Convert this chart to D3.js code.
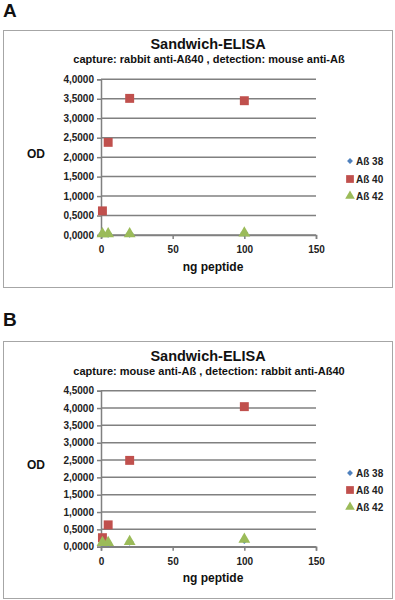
<!DOCTYPE html>
<html><head><meta charset="utf-8">
<script src="https://cdn.jsdelivr.net/npm/d3@7"></script>
<style>
html,body{margin:0;padding:0;background:#fff;}
svg{display:block;}
text{font-family:"Liberation Sans",Arial,sans-serif;font-weight:bold;}
</style></head>
<body>
<svg id="c" width="395" height="600"></svg>
<script>
// ---- data ----
const seriesNames = ["Aß 38", "Aß 40", "Aß 42"];
const xValues = [1, 5, 20, 100];
const xTicks = [0, 50, 100, 150];
// Panel A
const titleA = "Sandwich-ELISA";
const subtitleA = "capture: rabbit anti-Aß40 , detection: mouse anti-Aß";
const yTicksA = [0, 0.5, 1, 1.5, 2, 2.5, 3, 3.5, 4];
const a38 = [0.03, 0.03, 0.03, 0.05];
const a40 = [0.62, 2.38, 3.51, 3.45];
const a42 = [0.03, 0.03, 0.03, 0.05];
// Panel B
const titleB = "Sandwich-ELISA";
const subtitleB = "capture: mouse anti-Aß , detection: rabbit anti-Aß40";
const yTicksB = [0, 0.5, 1, 1.5, 2, 2.5, 3, 3.5, 4, 4.5];
const b38 = [0.11, 0.11, 0.14, 0.19];
const b40 = [0.26, 0.63, 2.49, 4.04];
const b42 = [0.12, 0.12, 0.15, 0.21];

const colors = ["#4F81BD", "#C0504D", "#9BBB59"];
const svg = d3.select("#c");
const fmt = v => d3.format(".4f")(v).replace(".", ",");

function panel(o) {
  const g = svg.append("g");
  g.append("text").attr("x", 3).attr("y", o.letterY).attr("font-size", 19).attr("fill", "#111").text(o.letter);
  g.append("rect").attr("x", 3.5).attr("y", o.boxTop + 0.5).attr("width", 389).attr("height", o.boxH)
    .attr("fill", "#fff").attr("stroke", "#a6a6a6").attr("stroke-width", 1);
  g.append("text").attr("x", 208).attr("y", o.titleY).attr("text-anchor", "middle").attr("font-size", 14.5).attr("fill", "#111").text(o.title);
  g.append("text").attr("x", 209).attr("y", o.subY).attr("text-anchor", "middle").attr("font-size", 11).attr("fill", "#111").text(o.subtitle);

  const x = d3.scaleLinear().domain([0, 150]).range([101, 316]);
  const y = d3.scaleLinear().domain([0, o.yMax]).range([o.y0, o.yTop]);

  // gridlines
  g.append("g").selectAll("line").data(o.yTicks).join("line")
    .attr("x1", x(0)).attr("x2", x(150)).attr("y1", d => y(d)).attr("y2", d => y(d))
    .attr("stroke", "#808080").attr("stroke-width", 1.5);

  const yAxis = g.append("g").attr("transform", `translate(${x(0)},0)`)
    .call(d3.axisLeft(y).tickValues(o.yTicks).tickFormat(fmt).tickSize(4).tickPadding(3));
  yAxis.select(".domain").attr("stroke", "#808080").attr("stroke-width", 1.5);
  yAxis.selectAll(".tick line").attr("stroke", "#808080").attr("stroke-width", 1.5);
  yAxis.selectAll("text").attr("font-size", 10).attr("fill", "#222").attr("font-family", "Liberation Sans, Arial, sans-serif").attr("font-weight", "bold");

  const xAxis = g.append("g").attr("transform", `translate(0,${y(0)})`)
    .call(d3.axisBottom(x).tickValues(xTicks).tickFormat(d3.format("d")).tickSize(4).tickPadding(7));
  xAxis.select(".domain").attr("stroke", "#808080").attr("stroke-width", 1.5);
  xAxis.selectAll(".tick line").attr("stroke", "#808080").attr("stroke-width", 1.5);
  xAxis.selectAll("text").attr("font-size", 10).attr("fill", "#222").attr("font-family", "Liberation Sans, Arial, sans-serif").attr("font-weight", "bold");

  g.append("text").attr("x", 213).attr("y", o.xlabY).attr("text-anchor", "middle").attr("font-size", 12).attr("fill", "#111").text("ng peptide");
  g.append("text").attr("x", 36).attr("y", o.odY).attr("text-anchor", "middle").attr("dominant-baseline", "central").attr("font-size", 12).attr("fill", "#111").text("OD");

  const sym = [d3.symbolDiamond2, d3.symbolSquare, d3.symbolTriangle];
  const sizes = [40, 80, 60];
  const data = [o.s38, o.s40, o.s42];
  data.forEach((vals, si) => {
    g.append("g").selectAll("path").data(vals).join("path")
      .attr("d", d3.symbol(sym[si], sizes[si]))
      .attr("transform", (d, i) => `translate(${x(xValues[i])},${y(d)})`)
      .attr("fill", colors[si]);
  });

  // legend
  const lg = g.append("g");
  seriesNames.forEach((n, i) => {
    const cy = o.legY[i];
    lg.append("path").attr("d", d3.symbol(sym[i], i === 0 ? 22 : (i === 1 ? 60 : 40)))
      .attr("transform", `translate(350,${cy})`).attr("fill", colors[i]);
    lg.append("text").attr("x", 356).attr("y", cy).attr("dominant-baseline", "central")
      .attr("font-size", 10).attr("fill", "#222").text(n);
  });
}

panel({letter: "A", letterY: 17, boxTop: 30, boxH: 257, title: titleA, subtitle: subtitleA, titleY: 49, subY: 63,
  yMax: 4, y0: 235, yTop: 79.3, yTicks: yTicksA, s38: a38, s40: a40, s42: a42, xlabY: 271, odY: 154, legY: [161, 179, 196]});
panel({letter: "B", letterY: 326, boxTop: 341, boxH: 257, title: titleB, subtitle: subtitleB, titleY: 361, subY: 375,
  yMax: 4.5, y0: 546.7, yTop: 390.7, yTicks: yTicksB, s38: b38, s40: b40, s42: b42, xlabY: 582, odY: 465, legY: [473, 490, 507]});
</script>
</body></html>
